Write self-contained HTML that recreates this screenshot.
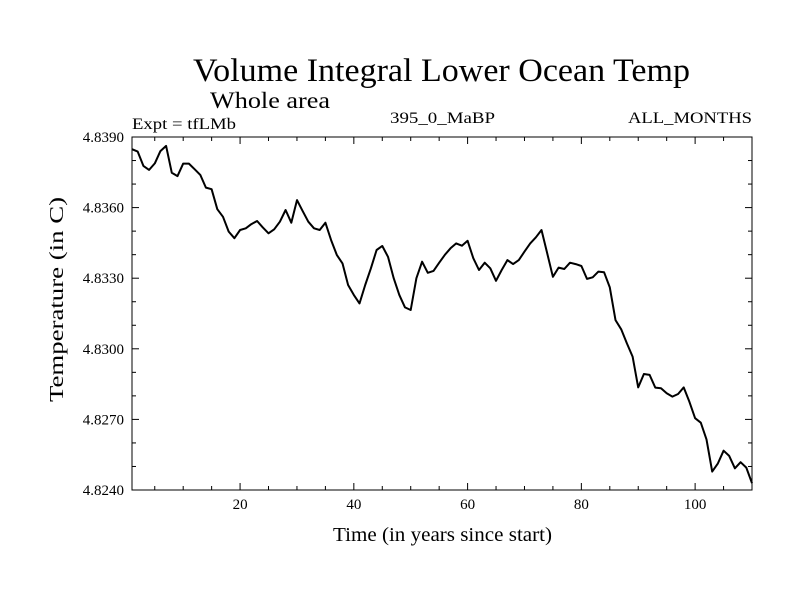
<!DOCTYPE html>
<html><head><meta charset="utf-8"><style>
body{margin:0;background:#fff}
svg text{font-family:"Liberation Serif",serif;fill:#000}
</style></head><body>
<svg id="chart" width="800" height="600" xmlns="http://www.w3.org/2000/svg">
<rect width="800" height="600" fill="#fff"/>
<text x="193" y="81" font-size="33" textLength="497" lengthAdjust="spacingAndGlyphs">Volume Integral Lower Ocean Temp</text>
<text x="210" y="108" font-size="23" textLength="120" lengthAdjust="spacingAndGlyphs">Whole area</text>
<text x="132" y="129" font-size="16" textLength="104" lengthAdjust="spacingAndGlyphs">Expt = tfLMb</text>
<text x="390" y="123" font-size="16" textLength="105" lengthAdjust="spacingAndGlyphs">395_0_MaBP</text>
<text x="628" y="123" font-size="16" textLength="124" lengthAdjust="spacingAndGlyphs">ALL_MONTHS</text>
<text x="333" y="541" font-size="20" textLength="219" lengthAdjust="spacingAndGlyphs">Time (in years since start)</text>
<text transform="translate(63,402) rotate(-90)" font-size="20" textLength="205" lengthAdjust="spacingAndGlyphs">Temperature (in C)</text>
<g id="axes"></g>
<path id="line" fill="none" stroke="#000" stroke-width="2" stroke-linejoin="round"/>
<rect x="132" y="137" width="620" height="353" fill="none" stroke="#000" stroke-width="1"/>
</svg>
<script>
const years=[];for(let i=1;i<=110;i++)years.push(i);
const temps=[4.83848,4.83838,4.83777,4.8376,4.83788,4.8384,4.83862,4.83748,4.83734,4.83787,
4.83787,4.83763,4.83739,4.83685,4.83678,4.83593,4.83561,4.83498,4.8347,4.83505,
4.83512,4.8353,4.83543,4.83516,4.83491,4.83508,4.8354,4.8359,4.83536,4.83632,
4.83586,4.8354,4.83512,4.83505,4.83536,4.83462,4.83399,4.83363,4.83271,4.83229,
4.83193,4.83271,4.83342,4.8342,4.83437,4.83391,4.833,4.83229,4.83176,4.83165,
4.833,4.8337,4.83323,4.83331,4.83366,4.83399,4.83427,4.83448,4.83438,4.83459,
4.83385,4.83335,4.83366,4.83342,4.83289,4.83335,4.83377,4.8336,4.83377,4.83413,
4.83448,4.83474,4.83505,4.83406,4.83306,4.83345,4.83339,4.83366,4.8336,4.83352,
4.83297,4.83304,4.83328,4.83325,4.83261,4.83122,4.83083,4.83023,4.82967,4.82836,
4.82893,4.82889,4.82835,4.82832,4.82811,4.82797,4.82808,4.82836,4.82775,4.82705,
4.82686,4.82615,4.82478,4.82513,4.82567,4.82545,4.82492,4.82518,4.82495,4.82429];
const xTicks=[20,40,60,80,100];
const yTicks=[4.8240,4.8270,4.8300,4.8330,4.8360,4.8390];
const L=132,R=752,T=137,B=490,X0=1,X1=110,Y0=4.824,Y1=4.839;
const sx=v=>L+(v-X0)/(X1-X0)*(R-L);
const sy=v=>B-(v-Y0)/(Y1-Y0)*(B-T);
const ns="http://www.w3.org/2000/svg",g=document.getElementById('axes');
function ln(x1,y1,x2,y2,nm){const e=document.createElementNS(ns,'line');
e.setAttribute('x1',x1);e.setAttribute('y1',y1);e.setAttribute('x2',x2);e.setAttribute('y2',y2);
e.setAttribute('stroke','#000');


g.appendChild(e);}
function tx(x,y,s,anchor,nm){const e=document.createElementNS(ns,'text');
e.setAttribute('x',x);e.setAttribute('y',y);e.setAttribute('font-size','15');e.setAttribute('text-anchor',anchor);e.textContent=s;


g.appendChild(e);}
for(let v=5;v<X1;v+=5){const x=sx(v),maj=v%20===0,l=maj?7:4;
ln(x,B,x,B-l,'x-tick');ln(x,T,x,T+l,'x-tick-top');}
xTicks.forEach(v=>tx(sx(v),509,String(v),'middle','x-tick-label'));
for(let k=0;k<=15;k++){const v=Y0+k*0.001,y=sy(v),maj=k%3===0,l=maj?7:4;
ln(L,y,L+l,y,'y-tick');ln(R,y,R-l,y,'y-tick-right');}
yTicks.forEach(v=>tx(124,sy(v)+5,v.toFixed(4),'end','y-tick-label'));
document.getElementById('line').setAttribute('d',years.map((x,i)=>(i?'L':'M')+sx(x).toFixed(1)+','+sy(temps[i]).toFixed(1)).join(''));
</script>
</body></html>
